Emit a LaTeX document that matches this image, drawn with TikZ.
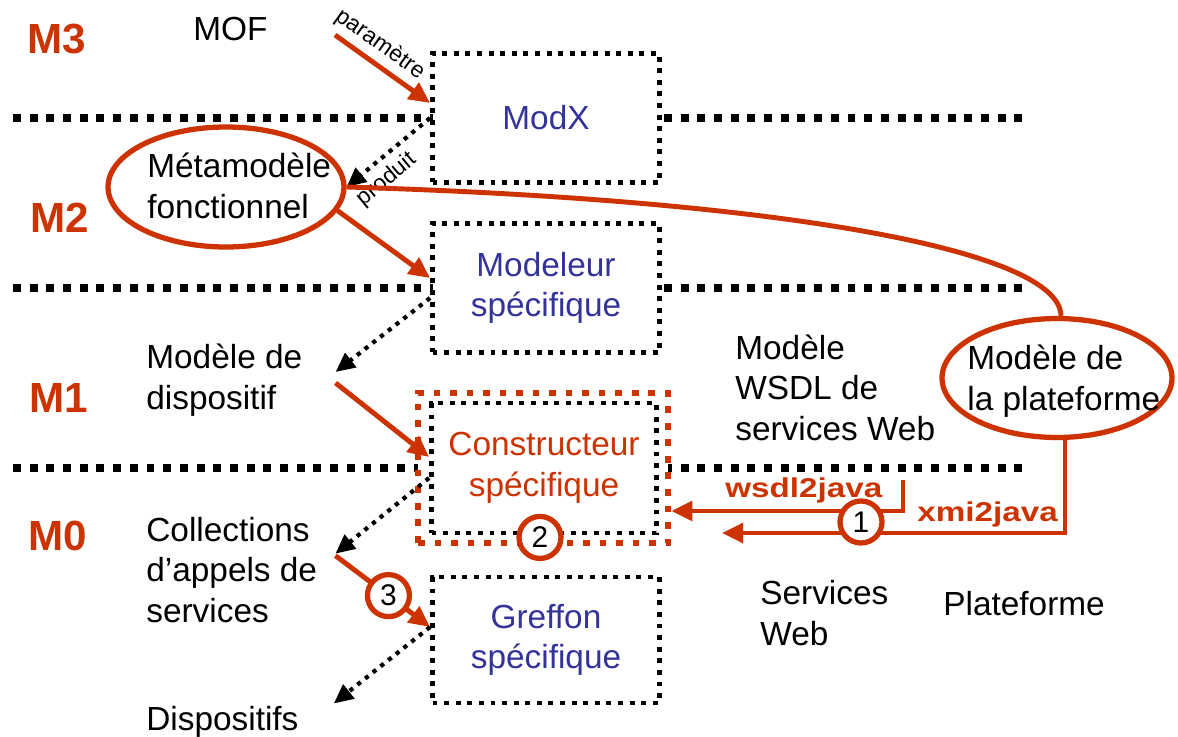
\documentclass[tikz,border=0pt]{standalone}
\usepackage{fontspec}
\setmainfont{Liberation Sans}
\newfontfamily\etire[FakeStretch=1.22]{Liberation Sans}
\usetikzlibrary{arrows.meta, positioning, calc, shapes.geometric}
\definecolor{rouille}{RGB}{204,51,0}
\definecolor{encre}{RGB}{51,51,153}

\begin{document}
\begin{tikzpicture}[x=0.02cm,y=-0.02cm,
  every node/.style={font=\fontsize{19}{23}\selectfont, inner sep=0pt},
  txt/.style={align=left, anchor=base west},
  niveau/.style={font=\fontsize{24}{28}\selectfont\bfseries, text=rouille, anchor=base west},
  separ/.style={line width=4.5pt, dash pattern=on 4.5pt off 5pt},
  outil/.style={draw, fill=white, line width=2.8pt, dash pattern=on 2.8pt off 3.8pt,
    align=center, text=encre},
  cadre/.style={draw=rouille, fill=white, line width=3.8pt, dash pattern=on 3.8pt off 5.6pt},
  bulle/.style={draw=rouille, ellipse, line width=3pt},
  num/.style={circle, draw=rouille, fill=white, line width=3pt, minimum size=0.84cm,
    font=\fontsize{17}{20}\selectfont},
  oline/.style={draw=rouille, line width=2.8pt},
  oarrow/.style={draw=rouille, line width=2.8pt, -{Triangle[length=12pt,width=11pt]}},
  darrow/.style={line width=2.4pt, dash pattern=on 2.4pt off 3.2pt,
    -{Triangle[length=11pt,width=10pt]}},
  petit/.style={font=\fontsize{13}{15}\selectfont},
  lbl/.style={font=\etire\fontsize{15.5}{18}\selectfont\bfseries, text=rouille, anchor=base west}]
  \useasboundingbox (0,0) rectangle (1178,737);
  % ---- level separators --------------------------------------------------
  \foreach \yy in {118,288,468}
    \draw[separ] (13,\yy) -- (1025,\yy);
  % ---- level names -------------------------------------------------------
  \node[niveau] (m3) at (27,53) {M3};
  \node[niveau] (m2) at (30,232) {M2};
  \node[niveau] (m1) at (29,412) {M1};
  \node[niveau] (m0) at (28,550) {M0};
  % ---- tools ---------------------------------------------------------------
  \node[outil, minimum width=4.54cm, minimum height=2.58cm] (modx) at (546,118) {ModX};
  \node[outil, minimum width=4.54cm, minimum height=2.58cm] (modeleur) at (546,288)
    {Modeleur\\spécifique};
  \node[cadre, minimum width=5cm, minimum height=3cm] (constrfr) at (543,468) {};
  \node[outil, text=rouille, minimum width=4.5cm, minimum height=2.6cm] (constr) at (544,468)
    {Constructeur\\spécifique};
  \node[outil, minimum width=4.54cm, minimum height=2.52cm] (greffon) at (546,640)
    {Greffon\\spécifique};
  % ---- models --------------------------------------------------------------
  \node[txt] (mof) at (193,40) {MOF};
  \node[bulle, minimum width=4.72cm, minimum height=2.4cm] (meta) at (226,187) {};
  \node[txt] (metatxt) at (147,218) {Métamodèle\\fonctionnel};
  \node[txt] (dispo) at (146,409) {Modèle de\\dispositif};
  \node[txt] (coll) at (146,622) {Collections\\d’appels de\\services};
  \node[txt] (dispositifs) at (146,730) {Dispositifs};
  \node[txt] (wsdl) at (735,440) {Modèle\\WSDL de\\services Web};
  \node[bulle, minimum width=4.6cm, minimum height=2.38cm] (plat) at (1057,378) {};
  \node[txt] (plattxt) at (967,410) {Modèle de\\la plateforme};
  \node[txt] (servweb) at (760,645) {Services\\Web};
  \node[txt] (platef) at (943,615) {Plateforme};
  % ---- M3 / M2 links -------------------------------------------------------
  \coordinate (parstart) at (335,35);
  \draw[oarrow] (parstart) -- ($(modx.west)+(0,-15)$)
    node[petit, pos=0.36, above=3pt, sloped] {paramètre};
  \draw[darrow] (modx.west) -- (meta.east)
    node[petit, pos=0.67, below=4pt, sloped] {produit};
  \draw[oline] (meta.east) .. controls (780,200) and (1060,250) .. ($(plat.north)+(4,0)$);
  \draw[oarrow] (meta.-12) -- ($(modeleur.west)+(0,-10)$);
  % ---- M1 / M0 chain -------------------------------------------------------
  \draw[darrow] ($(modeleur.west)+(0,10)$) -- ($(dispo.east)+(33,-8)$);
  \draw[oarrow] ($(dispo.east)+(33,3)$) -- ($(constr.west)+(0,-11)$);
  \draw[darrow] ($(constr.west)+(0,10)$) -- ($(coll.east)+(18,-16)$);
  \draw[oarrow] ($(coll.east)+(18,-14)$) -- ($(greffon.west)+(0,-13)$)
    node[num, pos=0.56] (c3) {3};
  \draw[darrow] ($(greffon.west)+(0,-13)$) -- ($(dispositifs.north east)+(35,-2)$);
  % ---- generators ----------------------------------------------------------
  \coordinate (wsdlstart) at (903,480);
  \draw[oarrow] (wsdlstart) |- ($(constrfr.east)+(0,43)$);
  \coordinate (xmiend) at (722,533);
  \draw[oarrow] ($(plat.south)+(8,0)$) |- (xmiend);
  \node[num] (c1) at (861,522) {1};
  \node[num] (c2) at ($(constr.south)+(-4,2)$) {2};
  \node[lbl] (wsdllbl) at (725,497) {wsdl2java};
  \node[lbl] (xmilbl) at (917,521) {xmi2java};
\end{tikzpicture}
\end{document}
